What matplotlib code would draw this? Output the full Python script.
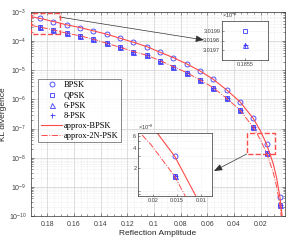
import numpy as np
import matplotlib
matplotlib.use("Agg")
import matplotlib.pyplot as plt
from matplotlib.ticker import FixedLocator, FuncFormatter, NullFormatter
from matplotlib.patches import Rectangle

# ---------------- data ----------------
amp = [0.1855, 0.1755, 0.1655, 0.1555, 0.1455, 0.1355, 0.1255, 0.1155, 0.1055, 0.0955,
       0.0855, 0.0755, 0.0655, 0.0555, 0.0455, 0.0355, 0.0255, 0.0155, 0.0055]
kl_bpsk = [6.04e-4, 4.72e-4, 3.63e-4, 2.93e-4, 2.26e-4, 1.73e-4, 1.26e-4, 9.17e-5, 6.52e-5, 4.16e-5,
           2.73e-5, 1.66e-5, 9.53e-6, 4.91e-6, 2.12e-6, 8.39e-7, 2.24e-7, 2.96e-8, 4.57e-10]
kl_qpsk = [3.01990e-4, 2.44e-4, 1.87e-4, 1.52e-4, 1.16e-4, 8.47e-5, 6.17e-5, 4.39e-5, 3.28e-5, 2.15e-5,
           1.34e-5, 8.33e-6, 4.68e-6, 2.54e-6, 1.09e-6, 4.36e-7, 1.10e-7, 1.48e-8, 2.40e-10]
kl_6psk = [3.01975e-4, 2.44e-4, 1.87e-4, 1.52e-4, 1.16e-4, 8.47e-5, 6.17e-5, 4.39e-5, 3.28e-5, 2.15e-5,
           1.34e-5, 8.33e-6, 4.68e-6, 2.54e-6, 1.09e-6, 4.36e-7, 1.10e-7, 1.48e-8, 2.40e-10]
kl_8psk = [3.01975e-4, 2.44e-4, 1.87e-4, 1.52e-4, 1.16e-4, 8.47e-5, 6.17e-5, 4.39e-5, 3.28e-5, 2.15e-5,
           1.34e-5, 8.33e-6, 4.68e-6, 2.54e-6, 1.09e-6, 4.36e-7, 1.10e-7, 1.48e-8, 2.40e-10]

amp_line = [0.192, 0.1855, 0.1755, 0.1655, 0.1555, 0.1455, 0.1355, 0.1255, 0.1155, 0.1055, 0.0955,
            0.0855, 0.0755, 0.0655, 0.0555, 0.0455, 0.0355, 0.0255, 0.0205, 0.0155, 0.0105,
            0.0080, 0.0055, 0.0035]
approx_bpsk = [6.9e-4, 6.04e-4, 4.72e-4, 3.63e-4, 2.93e-4, 2.26e-4, 1.73e-4, 1.26e-4, 9.17e-5, 6.52e-5,
               4.16e-5, 2.73e-5, 1.66e-5, 9.53e-6, 4.91e-6, 2.12e-6, 8.39e-7, 2.24e-7, 9.0e-8,
               2.96e-8, 6.2e-9, 2.09e-9, 4.57e-10, 7.6e-11]
approx_2npsk = [3.45e-4, 3.02e-4, 2.44e-4, 1.87e-4, 1.52e-4, 1.16e-4, 8.47e-5, 6.17e-5, 4.39e-5, 3.28e-5,
                2.15e-5, 1.34e-5, 8.33e-6, 4.68e-6, 2.54e-6, 1.09e-6, 4.36e-7, 1.10e-7, 4.5e-8,
                1.48e-8, 3.1e-9, 1.05e-9, 2.40e-10, 3.8e-11]

xticks = [0.18, 0.16, 0.14, 0.12, 0.1, 0.08, 0.06, 0.04, 0.02]
xticklabels = ["0.18", "0.16", "0.14", "0.12", "0.1", "0.08", "0.06", "0.04", "0.02"]
yexps = [-10, -9, -8, -7, -6, -5, -4, -3]

# ---------------- style ----------------
BLUE = "#3a3aff"
RED = "#ff4a4a"
TICKC = "#404040"
plt.rcParams["font.family"] = ["Liberation Sans", "DejaVu Sans"]
plt.rcParams["axes.linewidth"] = 0.5

fig = plt.figure(figsize=(2.88, 2.4), dpi=100)
ax = fig.add_axes([0.109, 0.1, 0.879, 0.85])

mk = dict(linestyle="none", color=BLUE, markerfacecolor="none", markeredgewidth=0.6)


def draw_series(a, with_lines=True, ms=3.6):
    a.plot(amp, kl_bpsk, marker="o", markersize=ms, label="BPSK", **mk)
    a.plot(amp, kl_qpsk, marker="s", markersize=ms * 0.85, label="QPSK", **mk)
    a.plot(amp, kl_6psk, marker="^", markersize=ms, label="6-PSK", **mk)
    a.plot(amp, kl_8psk, marker="+", markersize=ms, label="8-PSK", **mk)
    if with_lines:
        a.plot(amp_line, approx_bpsk, "-", color=RED, lw=0.8, label="approx-BPSK")
        a.plot(amp_line, approx_2npsk, "-.", color=RED, lw=0.7, label="approx-2N-PSK")


draw_series(ax)
ax.set_yscale("log")
ax.set_xlim(0.192, 0.002)
ax.set_ylim(1e-10, 1e-3)
ax.xaxis.set_major_locator(FixedLocator(xticks))
ax.set_xticklabels(xticklabels)
ax.xaxis.set_minor_locator(FixedLocator(list(np.arange(0.005, 0.192, 0.005))))
ax.yaxis.set_major_locator(FixedLocator([10.0 ** e for e in yexps]))
ax.yaxis.set_minor_locator(FixedLocator([m * 10.0 ** e for e in yexps[:-1] for m in range(2, 10)]))
ax.yaxis.set_minor_formatter(NullFormatter())
ax.yaxis.set_major_formatter(FuncFormatter(lambda v, p: r"$\mathregular{10^{%d}}$" % int(round(np.log10(v)))))
ax.tick_params(which="both", direction="in", top=True, right=True, colors=TICKC, labelsize=5.0,
               width=0.4, length=2.5)
ax.tick_params(which="minor", length=1.3)
ax.grid(True, which="major", color="#d0d0d0", lw=0.5)
ax.grid(True, which="minor", color="#dedede", lw=0.4, ls=":")
for s in ax.spines.values():
    s.set_color("#333333")
ax.set_xlabel("Reflection Amplitude", fontsize=6, color="#262626", labelpad=1.5)
ax.set_ylabel("KL divergence", fontsize=6, color="#262626", labelpad=1)

leg = ax.legend(loc="upper left", bbox_to_anchor=(0.027, 0.672), prop={"family": "Liberation Serif", "size": 6},
                frameon=True, fancybox=False, edgecolor="#333333", borderpad=0.3, labelspacing=0.25,
                handlelength=2.6, handletextpad=0.2, borderaxespad=0)
leg.get_frame().set_linewidth(0.5)

# zoom rectangles
ax.add_patch(Rectangle((0.1705, 1.71e-4), 0.0215, 9.0e-4 - 1.71e-4, fill=False, ec=RED, ls="--", lw=1.0, zorder=5))
ax.add_patch(Rectangle((0.00927, 1.32e-8), 0.0300 - 0.00927, 7.1e-8 - 1.32e-8, fill=False, ec=RED, ls="--", lw=1.0, zorder=5))

# arrows
W, H = 288.0, 240.0
arr = dict(arrowstyle="-|>,head_length=0.5,head_width=0.2", color="#333333", lw=0.5, shrinkA=0, shrinkB=0)
ax.annotate("", xy=(204 / W, 1 - 40 / H), xytext=(59.3 / W, 1 - 17 / H), xycoords="figure fraction",
            textcoords="figure fraction", arrowprops=arr)
ax.annotate("", xy=(214 / W, 1 - 171 / H), xytext=(246.7 / W, 1 - 154 / H), xycoords="figure fraction",
            textcoords="figure fraction", arrowprops=arr)

# inset 1
in1 = fig.add_axes([222.3 / W, 1 - 60 / H, 45.4 / W, 39 / H])
draw_series(in1, with_lines=False, ms=3.6)
in1.set_xlim(0.18548, 0.18552)
in1.set_ylim(3.0196e-4, 3.0200e-4)
in1.set_xticks([0.1855])
in1.set_xticklabels(["0.1855"])
in1.set_yticks([3.0197e-4, 3.0198e-4, 3.0199e-4])
in1.set_yticklabels(["3.0197", "3.0198", "3.0199"])
in1.tick_params(direction="in", colors=TICKC, labelsize=4, width=0.4, length=1.5, pad=1.5)
in1.grid(True, color="#dddddd", lw=0.4, ls=":")
for s in in1.spines.values():
    s.set_color("#333333")
in1.text(0.0, 1.02, r"$\mathregular{\times10^{-4}}$", transform=in1.transAxes, fontsize=4, color=TICKC,
         ha="left", va="bottom")

# inset 2
in2 = fig.add_axes([138.3 / W, 1 - 196 / H, 73.4 / W, 62.7 / H])
draw_series(in2, with_lines=True, ms=3.6)
in2.set_yscale("log")
in2.set_xlim(0.0231, 0.0078)
in2.set_ylim(7.5e-9, 6.6e-8)
in2.set_xticks([0.02, 0.015, 0.01])
in2.set_xticklabels(["0.02", "0.015", "0.01"])
in2.set_yticks([2e-8, 4e-8, 6e-8])
in2.set_yticklabels(["2", "4", "6"])
in2.yaxis.set_minor_formatter(NullFormatter())
in2.tick_params(which="both", direction="in", colors=TICKC, labelsize=4, width=0.4, length=1.5, pad=1.5)
in2.grid(True, which="both", color="#dddddd", lw=0.4, ls=":")
for s in in2.spines.values():
    s.set_color("#333333")
in2.text(0.0, 1.02, r"$\mathregular{\times10^{-8}}$", transform=in2.transAxes, fontsize=4, color=TICKC,
         ha="left", va="bottom")

fig.savefig("out.png", dpi=100)
